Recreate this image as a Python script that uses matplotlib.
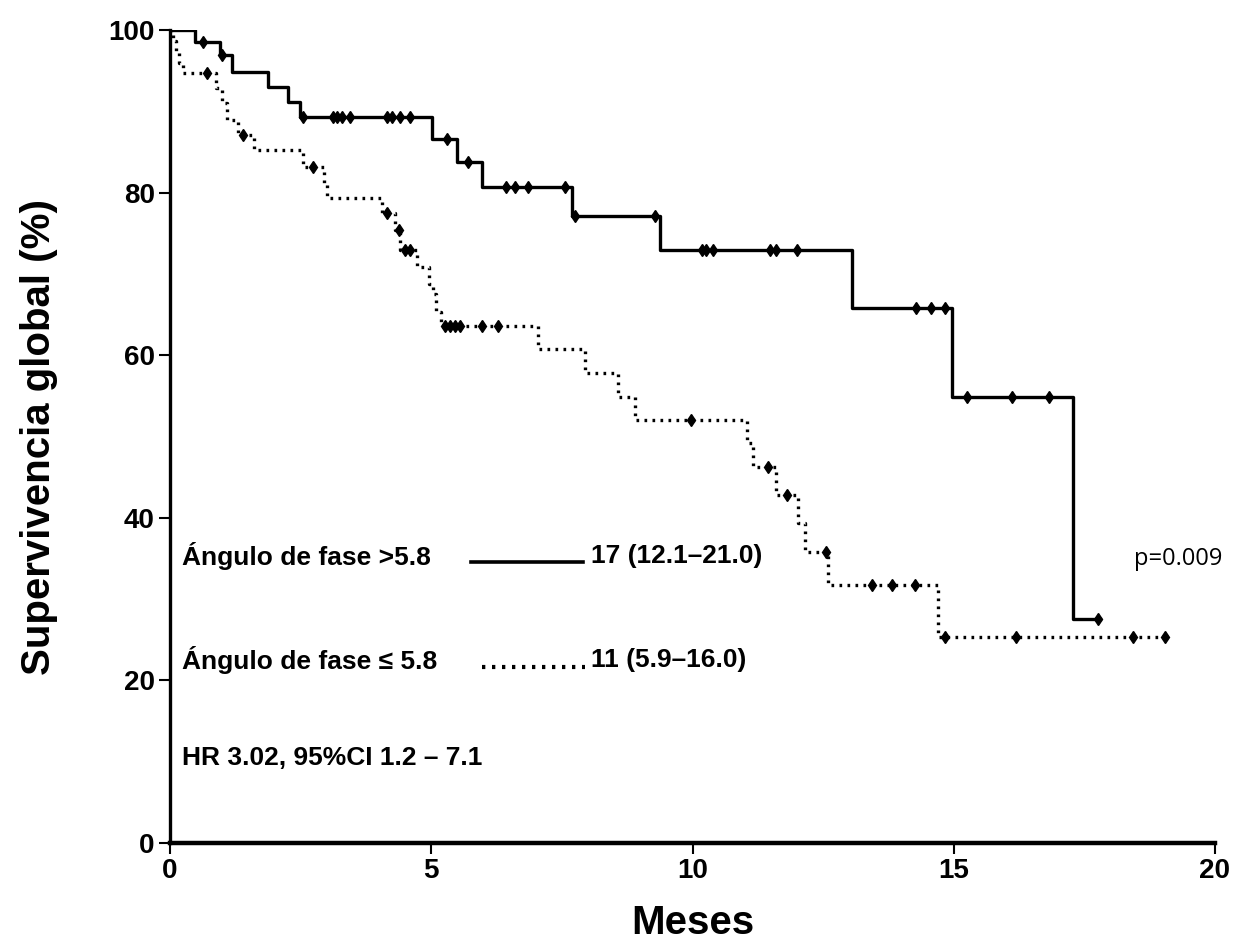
import numpy as np
import matplotlib
matplotlib.use("Agg")
import matplotlib.pyplot as plt

plt.rcParams['font.family'] = ['Liberation Sans', 'DejaVu Sans']

# Ángulo de fase > 5.8 (solid): event times (months) and survival after each event (%)
hi_times = [0, 0.48, 0.96, 1.18, 1.88, 2.26, 2.49, 5.01, 5.50, 5.98, 7.69, 9.38, 13.06, 14.96, 17.29]
hi_surv = [100, 98.6, 96.9, 94.9, 93.0, 91.2, 89.3, 86.6, 83.8, 80.7, 77.1, 73.0, 65.8, 54.9, 27.6]
hi_end = 17.8
hi_cens = [0.63, 1.0, 2.55, 3.12, 3.2, 3.3, 3.45, 4.15, 4.25, 4.4, 4.6, 5.3, 5.71, 6.43, 6.6, 6.85,
           7.56, 7.75, 9.28, 10.18, 10.25, 10.4, 11.48, 11.6, 12.0, 14.28, 14.56, 14.83,
           15.25, 16.11, 16.83, 17.77]

# Ángulo de fase <= 5.8 (dotted)
lo_times = [0, 0.05, 0.12, 0.18, 0.25, 0.88, 1.0, 1.1, 1.3, 1.6, 2.55, 2.95, 3.0, 4.05, 4.3, 4.4,
            4.72, 4.95, 5.04, 5.1, 5.18, 7.05, 7.94, 8.58, 8.9, 11.04, 11.15, 11.6, 12.02, 12.15,
            12.6, 14.7]
lo_surv = [100, 98.7, 97.4, 96.0, 94.7, 92.9, 91.0, 88.9, 87.1, 85.2, 83.2, 81.2, 79.3, 77.5, 75.4, 73.0,
           70.9, 68.8, 67.6, 65.3, 63.6, 60.8, 57.8, 54.9, 52.0, 49.2, 46.3, 42.8, 39.4, 35.8,
           31.7, 25.4]
lo_end = 19.05
lo_cens = [0.7, 1.4, 2.74, 4.15, 4.38, 4.5, 4.6, 5.26, 5.35, 5.45, 5.55, 5.97, 6.28, 9.98,
           11.45, 11.8, 12.56, 13.43, 13.81, 14.26, 14.83, 16.2, 18.43, 19.04]

x_ticks = [0, 5, 10, 15, 20]
y_ticks = [0, 20, 40, 60, 80, 100]


def level_at(times, surv, t):
    idx = np.searchsorted(times, t, side='right') - 1
    return np.array(surv)[idx]


fig = plt.figure(figsize=(12.5, 9.43), dpi=100)
ax = fig.add_axes([0.136, 0.106, 0.836, 0.862])

dot = (0, (0.8, 1.6))
for times, surv, end, cens, ls in [(hi_times, hi_surv, hi_end, hi_cens, '-'),
                                   (lo_times, lo_surv, lo_end, lo_cens, dot)]:
    xs = list(times) + [end]
    ys = list(surv) + [surv[-1]]
    ax.step(xs, ys, where='post', color='black', lw=2.4, linestyle=ls)
    cy = level_at(times, surv, cens)
    ax.plot(cens, cy, linestyle='none', marker='d', ms=6, color='black')

ax.set_xlim(0, 20)
ax.set_ylim(0, 100)
ax.set_xticks(x_ticks)
ax.set_yticks(y_ticks)
for s in ['top', 'right']:
    ax.spines[s].set_visible(False)
ax.spines['left'].set_linewidth(2.4)
ax.spines['bottom'].set_linewidth(3.2)
ax.tick_params(direction='out', length=8, width=1.5, labelsize=20, pad=3)
for lab in ax.get_xticklabels() + ax.get_yticklabels():
    lab.set_fontweight('bold')

ax.set_xlabel('Meses', fontsize=29, fontweight='bold', labelpad=14)
ax.set_ylabel('Supervivencia global (%)', fontsize=29, fontweight='bold', labelpad=36)

# legend-like annotations
ax.text(0.23, 35.3, 'Ángulo de fase >5.8', fontsize=19, fontweight='bold', va='center')
ax.plot([5.76, 7.9], [34.6, 34.6], color='black', lw=2.6)
ax.text(8.05, 35.3, '17 (12.1\u201321.0)', fontsize=19, fontweight='bold', va='center')

ax.text(0.23, 22.5, 'Ángulo de fase \u2264 5.8', fontsize=19, fontweight='bold', va='center')
ax.plot([5.97, 7.95], [21.7, 21.7], color='black', lw=3, linestyle=dot)
ax.text(8.05, 22.5, '11 (5.9\u201316.0)', fontsize=19, fontweight='bold', va='center')

ax.text(0.23, 10.5, 'HR 3.02, 95%CI 1.2 \u2013 7.1', fontsize=19, fontweight='bold', va='center')

ax.text(18.45, 35.0, 'p=0.009', fontsize=17, family=['Open Sans', 'DejaVu Sans'],
        va='center', clip_on=False)

fig.savefig('out.png', dpi=100)
